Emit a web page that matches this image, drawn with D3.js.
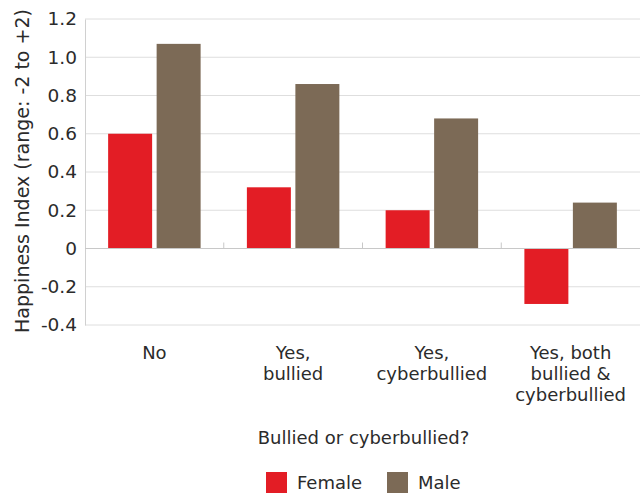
<!DOCTYPE html>
<html>
<head>
<meta charset="utf-8">
<script src="https://cdn.jsdelivr.net/npm/d3@7"></script>
<style>
  body { margin: 0; background: #fff; }
  text { font-family: 'DejaVu Sans', Verdana, sans-serif; fill: #2b2b2b; }
</style>
</head>
<body>
<div id="vis"></div>
<script>
const FRAME_WIDTH = 643;
const FRAME_HEIGHT = 494;
const MARGINS = { left: 85, right: 3, top: 19, bottom: 169 };

// data
const CATEGORIES = ['No', 'Yes, bullied', 'Yes, cyberbullied', 'Yes, both bullied & cyberbullied'];
const CATEGORY_LINES = [['No'], ['Yes,', 'bullied'], ['Yes,', 'cyberbullied'], ['Yes, both', 'bullied &', 'cyberbullied']];
const SERIES = ['Female', 'Male'];
const FEMALE = [0.60, 0.32, 0.20, -0.29];
const MALE = [1.07, 0.86, 0.68, 0.24];
const Y_TICKS = [-0.4, -0.2, 0, 0.2, 0.4, 0.6, 0.8, 1.0, 1.2];
const Y_TICK_LABELS = ['-0.4', '-0.2', '0', '0.2', '0.4', '0.6', '0.8', '1.0', '1.2'];
const COLORS = ['#e31d25', '#7c6a56'];

const VIS_WIDTH = FRAME_WIDTH - MARGINS.left - MARGINS.right;
const VIS_HEIGHT = FRAME_HEIGHT - MARGINS.top - MARGINS.bottom;

const rows = CATEGORIES.map((c, i) => ({ category: c, Female: FEMALE[i], Male: MALE[i] }));

const FRAME = d3.select('#vis')
  .append('svg')
  .attr('width', FRAME_WIDTH)
  .attr('height', FRAME_HEIGHT);

const X_SCALE = d3.scaleBand()
  .domain(CATEGORIES)
  .range([MARGINS.left, MARGINS.left + VIS_WIDTH]);

const SUB_SCALE = d3.scaleBand()
  .domain(SERIES)
  .range([0, X_SCALE.bandwidth()])
  .paddingInner(0.093)
  .paddingOuter(0.477);

const Y_SCALE = d3.scaleLinear()
  .domain([-0.4, 1.2])
  .range([MARGINS.top + VIS_HEIGHT, MARGINS.top]);

const COLOR = d3.scaleOrdinal().domain(SERIES).range(COLORS);

// gridlines
FRAME.append('g')
  .selectAll('line')
  .data(Y_TICKS.filter((t) => t !== 0))
  .enter()
  .append('line')
  .attr('x1', MARGINS.left)
  .attr('x2', MARGINS.left + VIS_WIDTH)
  .attr('y1', (d) => Y_SCALE(d))
  .attr('y2', (d) => Y_SCALE(d))
  .attr('stroke', '#dedede')
  .attr('stroke-width', 1);

// y axis
const yAxis = FRAME.append('g')
  .attr('transform', 'translate(' + MARGINS.left + ',0)')
  .call(d3.axisLeft(Y_SCALE).tickValues(Y_TICKS).tickSize(0).tickPadding(8)
    .tickFormat((d, i) => Y_TICK_LABELS[i]));
yAxis.select('.domain').attr('stroke', '#d0d0d0');
yAxis.selectAll('text').attr('font-size', '18.5px').attr('font-family', "'DejaVu Sans', Verdana, sans-serif").attr('fill', '#2b2b2b');

// bars
FRAME.append('g')
  .selectAll('g')
  .data(rows)
  .enter()
  .append('g')
  .attr('transform', (d) => 'translate(' + X_SCALE(d.category) + ',0)')
  .selectAll('rect')
  .data((d) => SERIES.map((s) => ({ key: s, value: d[s] })))
  .enter()
  .append('rect')
  .attr('x', (d) => SUB_SCALE(d.key))
  .attr('y', (d) => Y_SCALE(Math.max(0, d.value)))
  .attr('width', SUB_SCALE.bandwidth())
  .attr('height', (d) => Math.abs(Y_SCALE(d.value) - Y_SCALE(0)))
  .attr('fill', (d) => COLOR(d.key));

// zero line with category ticks
const xAxis = FRAME.append('g')
  .attr('transform', 'translate(0,' + Y_SCALE(0) + ')');
xAxis.append('line')
  .attr('x1', MARGINS.left)
  .attr('x2', MARGINS.left + VIS_WIDTH)
  .attr('stroke', '#c8c8c8');
xAxis.selectAll('.tick')
  .data(CATEGORIES.slice(1))
  .enter()
  .append('line')
  .attr('x1', (d) => X_SCALE(d))
  .attr('x2', (d) => X_SCALE(d))
  .attr('y1', 0)
  .attr('y2', -6)
  .attr('stroke', '#c8c8c8');

// category labels
const labels = FRAME.append('g')
  .selectAll('text')
  .data(CATEGORIES)
  .enter()
  .append('text')
  .attr('text-anchor', 'middle')
  .attr('font-size', '18px')
  .attr('x', (d) => X_SCALE(d) + X_SCALE.bandwidth() / 2)
  .attr('y', 359);
labels.selectAll('tspan')
  .data((d, i) => CATEGORY_LINES[i])
  .enter()
  .append('tspan')
  .attr('x', function () { return this.parentNode.getAttribute('x'); })
  .attr('dy', (d, i) => (i === 0 ? 0 : 21))
  .text((d) => d);

// axis titles
FRAME.append('text')
  .attr('text-anchor', 'middle')
  .attr('font-size', '18px')
  .attr('x', MARGINS.left + VIS_WIDTH / 2 + 1)
  .attr('y', 444)
  .text('Bullied or cyberbullied?');

FRAME.append('text')
  .attr('text-anchor', 'middle')
  .attr('font-size', '19px')
  .attr('transform', 'translate(29,' + (MARGINS.top + VIS_HEIGHT / 2 - 1) + ') rotate(-90)')
  .text('Happiness Index (range: -2 to +2)');

// legend
const legend = FRAME.append('g')
  .selectAll('g')
  .data(SERIES)
  .enter()
  .append('g')
  .attr('transform', (d, i) => 'translate(' + [266, 387][i] + ',472)');
legend.append('rect')
  .attr('width', 21)
  .attr('height', 21)
  .attr('fill', (d) => COLOR(d));
legend.append('text')
  .attr('x', 31)
  .attr('y', 17)
  .attr('font-size', '18px')
  .text((d) => d);
</script>
</body>
</html>
